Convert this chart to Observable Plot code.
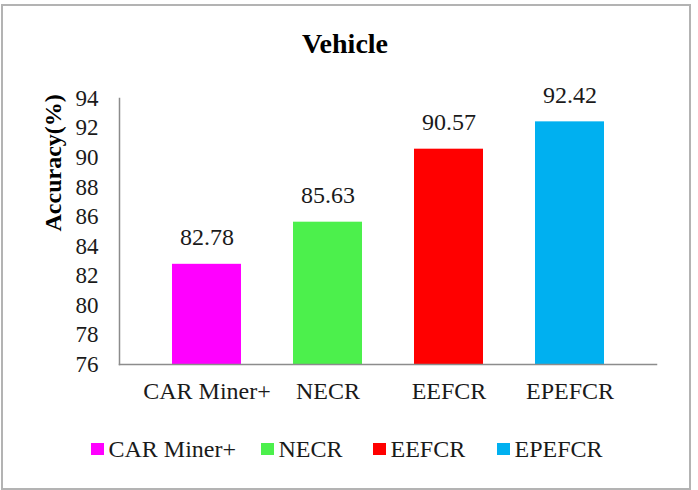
<!DOCTYPE html>
<html>
<head>
<meta charset="utf-8">
<script src="https://cdn.jsdelivr.net/npm/d3@7"></script>
<script src="https://cdn.jsdelivr.net/npm/@observablehq/plot@0.6"></script>
<style>
  html, body { margin: 0; padding: 0; background: #fff; font-family: 'Liberation Serif', 'Times New Roman', serif; }
  #chart { position: relative; width: 698px; height: 490px; font-family: 'Liberation Serif', 'Times New Roman', serif; }
  #border { position: absolute; left: 1px; top: 4px; width: 686px; height: 482px; border: 2px solid #b3b3b3; }
  #title { position: absolute; left: 0; width: 690px; top: 27px; text-align: center; font-weight: bold; font-size: 28px; line-height: 34px; color: #000; font-family: 'Liberation Serif', serif; }
  #plot { position: absolute; left: 0; top: 0; }
  #legend { position: absolute; left: 0; top: 434px; width: 698px; height: 30px; font-size: 24px; line-height: 30px; color: #1a1a1a; font-family: 'Liberation Serif', serif; }
  .item { position: absolute; top: 0; display: flex; align-items: center; gap: 5px; white-space: nowrap; }
  .swatch { width: 12.5px; height: 12.5px; display: inline-block; }
</style>
</head>
<body>
<div id="chart">
  <div id="border"></div>
  <div id="plot"></div>
  <div id="title">Vehicle</div>
  <div id="legend"></div>
</div>
<script>
// Methods compared and their accuracy on the Vehicle dataset
const methods = ["CAR Miner+", "NECR", "EEFCR", "EPEFCR"];
const accuracy = [82.78, 85.63, 90.57, 92.42];
const colors = ["#ff00ff", "#4cf04c", "#ff0000", "#00b0f0"];
const yTicks = [76, 78, 80, 82, 84, 86, 88, 90, 92, 94];
const yLabel = "Accuracy(%)";

const rows = methods.map((m, i) => ({method: m, value: accuracy[i]}));
const yMin = yTicks[0], yMax = yTicks[yTicks.length - 1];
const serif = "'Liberation Serif', 'Times New Roman', serif";

const chart = Plot.plot({
  width: 698,
  height: 490,
  marginLeft: 119,
  marginRight: 42,
  marginTop: 98,
  marginBottom: 126,
  style: `font-family: ${serif}; font-size: 24px; color: #1a1a1a; background: transparent;`,
  x: {domain: methods, padding: 0.43, label: null},
  y: {domain: [yMin, yMax], label: null},
  color: {domain: methods, range: colors},
  marks: [
    Plot.barY(rows, {x: "method", y1: yMin, y2: "value", fill: "method"}),
    Plot.text(rows, {x: "method", y: "value", text: d => d.value.toFixed(2), dy: -27, fontSize: 24, fontFamily: serif, fill: "#1a1a1a"}),
    Plot.axisY({ticks: yTicks, tickSize: 0, tickPadding: 21, fontSize: 23, fontFamily: serif, label: null}),
    Plot.axisX({tickSize: 0, tickPadding: 17, fontSize: 24, fontFamily: serif, label: null}),
    Plot.frame({anchor: "left", stroke: "#8c8c8c", strokeWidth: 1.5}),
    Plot.frame({anchor: "bottom", stroke: "#8c8c8c", strokeWidth: 1.5}),
    Plot.text([yLabel], {frameAnchor: "left", rotate: -90, dx: -66, fontWeight: "bold", fontSize: 24, fontFamily: serif, fill: "#000"})
  ]
});
document.getElementById("plot").appendChild(chart);

// Legend entries, placed left to right along the bottom of the frame
const legendLeft = [91, 261, 373, 497];
const legend = document.getElementById("legend");
methods.forEach((m, i) => {
  const item = document.createElement("div");
  item.className = "item";
  item.style.left = legendLeft[i] + "px";
  const sw = document.createElement("span");
  sw.className = "swatch";
  sw.style.background = colors[i];
  const label = document.createElement("span");
  label.textContent = m;
  item.appendChild(sw);
  item.appendChild(label);
  legend.appendChild(item);
});
</script>
</body>
</html>
